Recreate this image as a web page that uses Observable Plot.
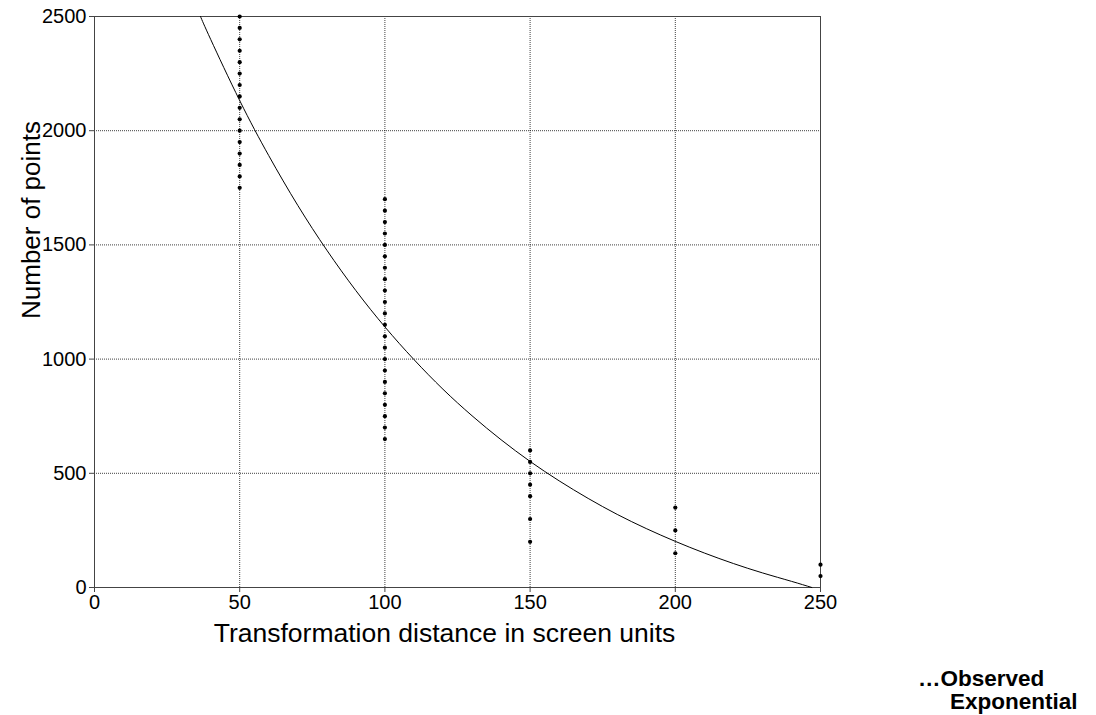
<!DOCTYPE html>
<html>
<head>
<meta charset="utf-8">
<script src="https://cdn.jsdelivr.net/npm/d3@7"></script>
<script src="https://cdn.jsdelivr.net/npm/@observablehq/plot@0.6"></script>
<style>
  html, body { margin: 0; padding: 0; background: #fff; }
  #wrap { position: relative; width: 1096px; height: 715px; overflow: hidden; }
  .legend { position: absolute; font-family: "Liberation Sans", Arial, sans-serif; font-weight: bold; font-size: 22.5px; color: #000; white-space: nowrap; line-height: 1; }
</style>
</head>
<body>
<div id="wrap"></div>
<script>
// Observed point counts, grouped by transformation distance
const distances = [50, 100, 150, 200, 250];
const countsAt50 = [1750, 1800, 1850, 1900, 1950, 2000, 2050, 2100, 2150, 2200, 2250, 2300, 2350, 2400, 2450, 2500];
const countsAt100 = [650, 700, 750, 800, 850, 900, 950, 1000, 1050, 1100, 1150, 1200, 1250, 1300, 1350, 1400, 1450, 1500, 1550, 1600, 1650, 1700];
const countsAt150 = [200, 300, 400, 450, 500, 550, 600];
const countsAt200 = [150, 250, 350];
const countsAt250 = [50, 100];
const countsByDistance = [countsAt50, countsAt100, countsAt150, countsAt200, countsAt250];

// Fitted exponential curve, sampled along its length
const fitX = [36.5, 40, 50, 60, 70, 80, 90, 100, 110, 120, 130, 140, 150, 160, 170, 180, 190, 200, 210, 220, 230, 240, 247];
const fitY = [2500, 2400, 2132, 1891, 1673, 1477, 1300, 1141, 998, 868, 752, 647, 552, 467, 390, 320, 258, 202, 151, 105, 64, 27, 0];

// Axis ticks and grid lines
const xTicks = [0, 50, 100, 150, 200, 250];
const yTicks = [0, 500, 1000, 1500, 2000, 2500];
const xGrid = [50, 100, 150, 200];
const yGrid = [500, 1000, 1500, 2000];

const observed = distances.flatMap((d, i) => countsByDistance[i].map(n => ({distance: d, count: n})));
const fit = fitX.map((x, i) => ({distance: x, count: fitY[i]}));

const chart = Plot.plot({
  width: 1096,
  height: 660,
  marginLeft: 94,
  marginRight: 276,
  marginTop: 16,
  marginBottom: 73,
  style: {fontFamily: '"Liberation Sans", Arial, sans-serif', fontSize: "20px", color: "#000", background: "#fff"},
  x: {domain: [0, 250]},
  y: {domain: [0, 2500]},
  marks: [
    Plot.gridX(xGrid, {stroke: "#000", strokeOpacity: 0.75, strokeDasharray: "1,1"}),
    Plot.gridY(yGrid, {stroke: "#000", strokeOpacity: 0.75, strokeDasharray: "1,1"}),
    Plot.frame({stroke: "#444"}),
    Plot.axisX({ticks: xTicks, tickFormat: d => String(d), tickSize: 5, tickPadding: 2, fontSize: 20, label: null, stroke: "#444"}),
    Plot.axisY({ticks: yTicks, tickFormat: d => String(d), tickSize: 5, tickPadding: 3, fontSize: 20, label: null, stroke: "#444"}),
    Plot.text(["Transformation distance in screen units"], {frameAnchor: "bottom", dy: 54, dx: -13, fontSize: 26.5, text: d => d}),
    Plot.text(["Number of points"], {frameAnchor: "left", textAnchor: "middle", dx: -63, dy: -82, rotate: -90, fontSize: 26, text: d => d}),
    Plot.line(fit, {x: "distance", y: "count", curve: "natural", stroke: "#000", strokeWidth: 1}),
    Plot.dot(observed, {x: "distance", y: "count", r: 2.1, fill: "#000", stroke: "none"})
  ]
});
const wrap = document.getElementById("wrap");
wrap.appendChild(chart);

// Legend below the plot
const l1 = document.createElement("div");
l1.className = "legend";
l1.textContent = "…Observed";
l1.style.left = "918px";
l1.style.top = "668px";
const l2 = document.createElement("div");
l2.className = "legend";
l2.textContent = "Exponential";
l2.style.left = "950px";
l2.style.top = "691px";
wrap.appendChild(l1);
wrap.appendChild(l2);
</script>
</body>
</html>
